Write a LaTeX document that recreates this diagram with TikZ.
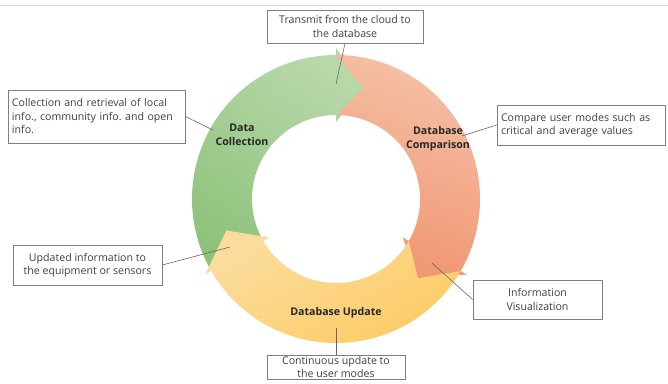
\documentclass[tikz,border=0pt]{standalone}
\usepackage{fontspec}
\setmainfont{Open Sans}
\usepackage{tikz}
\frenchspacing

\definecolor{greenlight}{HTML}{B7D8A9}
\definecolor{greendark}{HTML}{8EC27A}
\definecolor{orangelight}{HTML}{F5C0A6}
\definecolor{orangedark}{HTML}{F09672}
\definecolor{yellowlight}{HTML}{FCDC9E}
\definecolor{yellowdark}{HTML}{FDCA60}
\definecolor{boxline}{HTML}{7F7F7F}
\definecolor{boxtext}{HTML}{404040}

\tikzset{
  note/.style={draw=boxline, line width=0.8pt, fill=white, text=boxtext, inner sep=2pt,
    font=\fontsize{10.6}{13.5}\selectfont},
  stage/.style={font=\fontsize{10.6}{14}\selectfont\bfseries, text=black!85, align=center},
  pointer/.style={draw=black!60, line width=0.6pt}
}

\begin{document}
\begin{tikzpicture}[x=1pt, y=1pt]
\useasboundingbox (-336,-184) rectangle (332,199);
\draw[black!14, line width=1pt] (-336,193) -- (332,193);

\shade[top color=greenlight, bottom color=greendark, shading angle=-35]
  (210:144) arc[start angle=210, end angle=90, radius=144] -- (90:151) -- (76:114) -- (90:77)
  -- (90:84) arc[start angle=90, end angle=210, radius=84] -- (196:114) -- cycle;
\shade[top color=orangelight, bottom color=orangedark, shading angle=-20]
  (90:144) arc[start angle=90, end angle=-30, radius=144] -- (-30:151) -- (-44:114) -- (-30:77)
  -- (-30:84) arc[start angle=-30, end angle=90, radius=84] -- (76:114) -- cycle;
\shade[top color=yellowlight, bottom color=yellowdark, shading angle=30]
  (-30:144) arc[start angle=-30, end angle=-150, radius=144] -- (-150:151) -- (-164:114) -- (-150:77)
  -- (-150:84) arc[start angle=-150, end angle=-30, radius=84] -- (-44:114) -- cycle;

\node[stage] (collect) at (-94,64) {Data\\Collection};
\node[stage] (compare) at (102,60) {Database\\Comparison};
\node[stage] (update) at (0,-114) {Database Update};

\coordinate (cloudend) at (0,115);
\coordinate (collectend) at (-123,69);
\coordinate (compareend) at (126,63);
\coordinate (sensorend) at (-106,-48);
\coordinate (visualend) at (96,-64);
\coordinate (modeend) at (0,-129);

\node[note, minimum width=156, minimum height=33, align=center] (cloudbox) at (9,172.5)
  {Transmit from the cloud to\\the database};
\node[note, minimum width=177, minimum height=53, text width=169, align=left] (collectbox) at (-239.5,82.5)
  {Collection and retrieval of local\\info., community info. and open\\info.};
\node[note, minimum width=168, minimum height=40, text width=160, align=left] (comparebox) at (245,74)
  {Compare user modes such as\\critical and average values};
\node[note, minimum width=149, minimum height=40, align=center] (sensorbox) at (-248.5,-66)
  {Updated information to\\the equipment or sensors};
\node[note, minimum width=129, minimum height=39, align=center] (visualbox) at (201.5,-100.5)
  {Information\\Visualization};
\node[note, minimum width=138, inner sep=1pt, anchor=north, align=center] (modebox) at (0,-156)
  {Continuous update to\\the user modes};

\draw[pointer] (cloudbox.south) -- (cloudend);
\draw[pointer] (collectbox.east) -- (collectend);
\draw[pointer] (comparebox.west) -- (compareend);
\draw[pointer] (sensorbox.east) -- (sensorend);
\draw[pointer] (visualbox.west) -- (visualend);
\draw[pointer] (modebox.north) -- (modeend);
\end{tikzpicture}
\end{document}
